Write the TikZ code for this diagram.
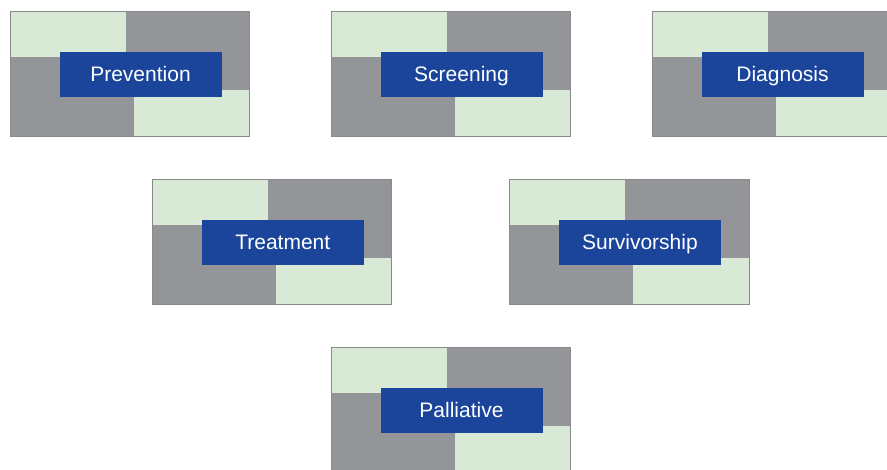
\documentclass[tikz,border=0pt]{standalone}
\usepackage{fontspec}
\setmainfont{Liberation Sans}
\definecolor{lgreen}{HTML}{D8EAD5}
\definecolor{mgray}{HTML}{949599}
\definecolor{lblue}{HTML}{1A459B}
\definecolor{framegray}{HTML}{8A8A8A}
\tikzset{
  greenpart/.style={fill=lgreen},
  graypart/.style={fill=mgray},
  blockframe/.style={draw=framegray, line width=0.9pt},
  stagelabel/.style={fill=lblue, text=white, minimum width=162pt, minimum height=45pt,
    inner sep=0pt, text height=15pt, text depth=0pt, font=\fontsize{21}{25}\selectfont},
}
\newcommand{\stageblock}[4]{%
  \begin{scope}[shift={(#2,#3)}]
    \fill[greenpart] (0,0) rectangle (115.5,45.5);
    \fill[graypart] (115.5,0) rectangle (239.5,79);
    \fill[graypart] (0,45.5) rectangle (123.5,125);
    \fill[greenpart] (123.5,79) rectangle (239.5,125);
    \draw[blockframe] (0,0) rectangle (239.5,125);
    \node[stagelabel] (#1) at (130.5,63) {#4};
  \end{scope}}
\begin{document}
\begin{tikzpicture}[x=1pt,y=-1pt]
  \useasboundingbox (0,0) rectangle (887,470);
  \clip (0,0) rectangle (887,470);
  \stageblock{prevention}{10}{11.5}{Prevention}
  \stageblock{screening}{331}{11.5}{Screening}
  \stageblock{diagnosis}{652}{11.5}{Diagnosis}
  \stageblock{treatment}{152.3}{179.5}{Treatment}
  \stageblock{survivorship}{509.5}{179.5}{Survivorship}
  \stageblock{palliative}{331}{347.5}{Palliative}
\end{tikzpicture}
\end{document}
